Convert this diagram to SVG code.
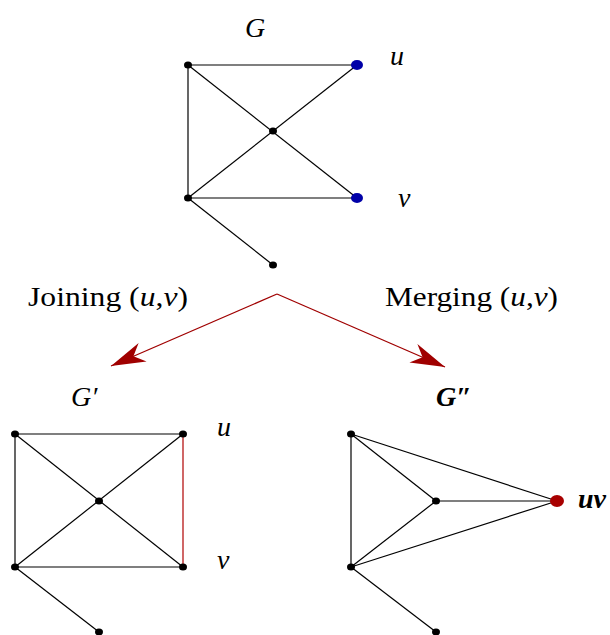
<svg xmlns="http://www.w3.org/2000/svg" width="610" height="635" viewBox="0 0 610 635">
<defs>
<style>
.e{stroke:#000;stroke-width:1.2;fill:none}
.er{stroke:#b00000;stroke-width:1.2;fill:none}
.n{fill:#000}
.t{font-family:"Liberation Serif","DejaVu Serif",serif;font-size:28px;fill:#000}
.i{font-style:italic}
.a{stroke:#a00000;stroke-width:1.3;fill:none}
</style>
<marker id="stealth" markerUnits="userSpaceOnUse" markerWidth="40" markerHeight="30" viewBox="-32 -12 36 24" refX="0" refY="0" orient="auto">
<path d="M0,0 L-31,-9 L-22,0 L-31,9 Z" fill="#a00000"/>
</marker>
</defs>
<rect width="610" height="635" fill="#fff"/>
<g id="connectors">
<line class="e" x1="188" y1="65" x2="357" y2="65"/>
<line class="e" x1="188" y1="65" x2="188" y2="198"/>
<line class="e" x1="188" y1="65" x2="357" y2="198"/>
<line class="e" x1="188" y1="198" x2="357" y2="65"/>
<line class="e" x1="188" y1="198" x2="357" y2="198"/>
<line class="e" x1="188" y1="198" x2="273" y2="265"/>
<line class="a" x1="277" y1="294" x2="111" y2="366" marker-end="url(#stealth)"/>
<line class="a" x1="277" y1="294" x2="445" y2="367" marker-end="url(#stealth)"/>
<line class="e" x1="15" y1="434" x2="183" y2="434"/>
<line class="e" x1="15" y1="434" x2="15" y2="567"/>
<line class="e" x1="15" y1="434" x2="183" y2="567"/>
<line class="e" x1="15" y1="567" x2="183" y2="434"/>
<line class="e" x1="15" y1="567" x2="183" y2="567"/>
<line class="e" x1="15" y1="567" x2="99" y2="632"/>
<line class="er" x1="183" y1="434" x2="183" y2="567"/>
<line class="e" x1="351" y1="434" x2="351" y2="567"/>
<line class="e" x1="351" y1="434" x2="436" y2="501"/>
<line class="e" x1="351" y1="434" x2="557" y2="501"/>
<line class="e" x1="436" y1="501" x2="557" y2="501"/>
<line class="e" x1="351" y1="567" x2="436" y2="501"/>
<line class="e" x1="351" y1="567" x2="557" y2="501"/>
<line class="e" x1="351" y1="567" x2="436" y2="632"/>
</g>
<g id="G">
<text class="t i" x="245" y="37">G</text>
<g id="g-a"><ellipse class="n" cx="188" cy="65" rx="4" ry="3.5"/></g>
<g id="g-u"><ellipse cx="357" cy="65" rx="6" ry="5" fill="#0000a8"/><text class="t i" x="390" y="65">u</text></g>
<g id="g-c"><ellipse class="n" cx="273" cy="131" rx="4" ry="3.5"/></g>
<g id="g-b"><ellipse class="n" cx="188" cy="198" rx="4" ry="3.5"/></g>
<g id="g-v"><ellipse cx="357" cy="198" rx="6" ry="5" fill="#0000a8"/><text class="t i" x="398" y="207">v</text></g>
<g id="g-d"><ellipse class="n" cx="273" cy="265" rx="4" ry="3.5"/></g>
</g>
<g id="labels">
<text class="t" x="28" y="306" textLength="160" lengthAdjust="spacingAndGlyphs">Joining (<tspan class="i">u</tspan>,<tspan class="i">v</tspan>)</text>
<text class="t" x="385" y="306" textLength="173" lengthAdjust="spacingAndGlyphs">Merging (<tspan class="i">u</tspan>,<tspan class="i">v</tspan>)</text>
</g>
<g id="Gp">
<text class="t i" x="71" y="406">G′</text>
<g id="gp-a"><ellipse class="n" cx="15" cy="434" rx="4" ry="3.5"/></g>
<g id="gp-u"><ellipse class="n" cx="183" cy="434" rx="4" ry="3.5"/><text class="t i" x="217" y="436">u</text></g>
<g id="gp-c"><ellipse class="n" cx="99" cy="501" rx="4" ry="3.5"/></g>
<g id="gp-b"><ellipse class="n" cx="15" cy="567" rx="4" ry="3.5"/></g>
<g id="gp-v"><ellipse class="n" cx="183" cy="567" rx="4" ry="3.5"/><text class="t i" x="217" y="569">v</text></g>
<g id="gp-d"><ellipse class="n" cx="99" cy="632" rx="4" ry="3.5"/></g>
</g>
<g id="Gpp">
<text class="t i" x="436" y="406" font-weight="bold">G″</text>
<g id="gpp-a"><ellipse class="n" cx="351" cy="434" rx="4" ry="3.5"/></g>
<g id="gpp-c"><ellipse class="n" cx="436" cy="501" rx="4" ry="3.5"/></g>
<g id="gpp-b"><ellipse class="n" cx="351" cy="567" rx="4" ry="3.5"/></g>
<g id="gpp-d"><ellipse class="n" cx="436" cy="632" rx="4" ry="3.5"/></g>
<g id="gpp-uv"><ellipse cx="557" cy="501" rx="7" ry="6" fill="#a80000"/><text class="t i" x="578" y="508" font-weight="bold">uv</text></g>
</g>
</svg>
